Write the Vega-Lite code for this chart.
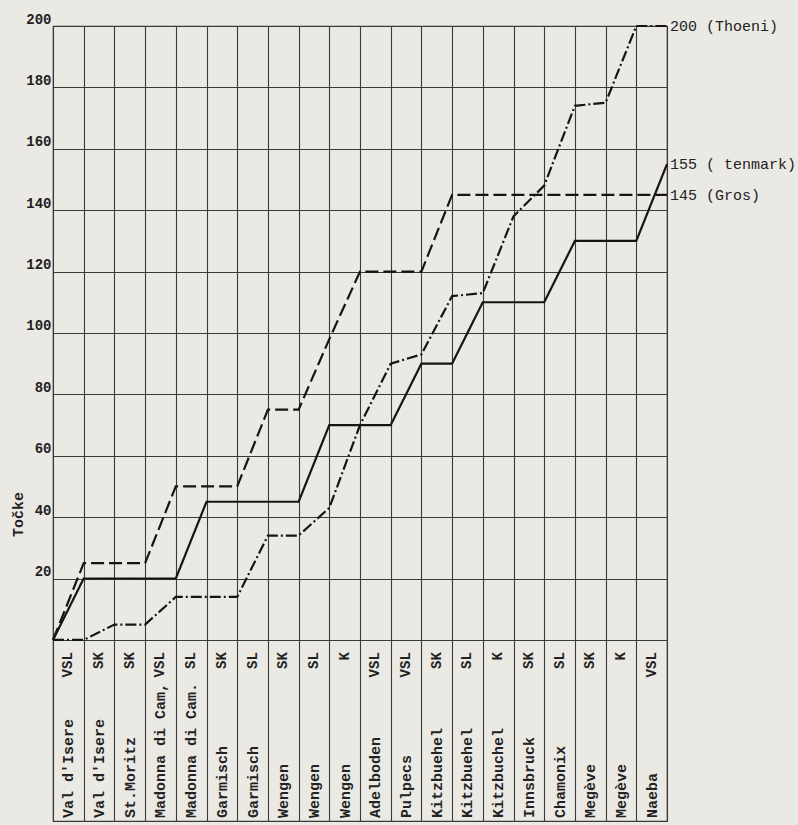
{
  "$schema": "https://vega.github.io/schema/vega-lite/v6.json",
  "width": 614,
  "height": 795,
  "autosize": {"type": "none"},
  "padding": {"left": 53, "top": 26, "right": 131, "bottom": 4},
  "background": "#ebe9e4",
  "datasets": {
    "points": [
      {"rider": "Thoeni", "idx": 0, "pts": 0}, {"rider": "Thoeni", "idx": 1, "pts": 0}, {"rider": "Thoeni", "idx": 2, "pts": 5}, {"rider": "Thoeni", "idx": 3, "pts": 5}, {"rider": "Thoeni", "idx": 4, "pts": 14}, {"rider": "Thoeni", "idx": 5, "pts": 14}, {"rider": "Thoeni", "idx": 6, "pts": 14}, {"rider": "Thoeni", "idx": 7, "pts": 34}, {"rider": "Thoeni", "idx": 8, "pts": 34}, {"rider": "Thoeni", "idx": 9, "pts": 43}, {"rider": "Thoeni", "idx": 10, "pts": 70}, {"rider": "Thoeni", "idx": 11, "pts": 90}, {"rider": "Thoeni", "idx": 12, "pts": 93}, {"rider": "Thoeni", "idx": 13, "pts": 112}, {"rider": "Thoeni", "idx": 14, "pts": 113}, {"rider": "Thoeni", "idx": 15, "pts": 138}, {"rider": "Thoeni", "idx": 16, "pts": 148}, {"rider": "Thoeni", "idx": 17, "pts": 174}, {"rider": "Thoeni", "idx": 18, "pts": 175}, {"rider": "Thoeni", "idx": 19, "pts": 200}, {"rider": "Thoeni", "idx": 20, "pts": 200},
      {"rider": "Gros", "idx": 0, "pts": 0}, {"rider": "Gros", "idx": 1, "pts": 25}, {"rider": "Gros", "idx": 2, "pts": 25}, {"rider": "Gros", "idx": 3, "pts": 25}, {"rider": "Gros", "idx": 4, "pts": 50}, {"rider": "Gros", "idx": 5, "pts": 50}, {"rider": "Gros", "idx": 6, "pts": 50}, {"rider": "Gros", "idx": 7, "pts": 75}, {"rider": "Gros", "idx": 8, "pts": 75}, {"rider": "Gros", "idx": 9, "pts": 98}, {"rider": "Gros", "idx": 10, "pts": 120}, {"rider": "Gros", "idx": 11, "pts": 120}, {"rider": "Gros", "idx": 12, "pts": 120}, {"rider": "Gros", "idx": 13, "pts": 145}, {"rider": "Gros", "idx": 14, "pts": 145}, {"rider": "Gros", "idx": 15, "pts": 145}, {"rider": "Gros", "idx": 16, "pts": 145}, {"rider": "Gros", "idx": 17, "pts": 145}, {"rider": "Gros", "idx": 18, "pts": 145}, {"rider": "Gros", "idx": 19, "pts": 145}, {"rider": "Gros", "idx": 20, "pts": 145},
      {"rider": "Stenmark", "idx": 0, "pts": 0}, {"rider": "Stenmark", "idx": 1, "pts": 20}, {"rider": "Stenmark", "idx": 2, "pts": 20}, {"rider": "Stenmark", "idx": 3, "pts": 20}, {"rider": "Stenmark", "idx": 4, "pts": 20}, {"rider": "Stenmark", "idx": 5, "pts": 45}, {"rider": "Stenmark", "idx": 6, "pts": 45}, {"rider": "Stenmark", "idx": 7, "pts": 45}, {"rider": "Stenmark", "idx": 8, "pts": 45}, {"rider": "Stenmark", "idx": 9, "pts": 70}, {"rider": "Stenmark", "idx": 10, "pts": 70}, {"rider": "Stenmark", "idx": 11, "pts": 70}, {"rider": "Stenmark", "idx": 12, "pts": 90}, {"rider": "Stenmark", "idx": 13, "pts": 90}, {"rider": "Stenmark", "idx": 14, "pts": 110}, {"rider": "Stenmark", "idx": 15, "pts": 110}, {"rider": "Stenmark", "idx": 16, "pts": 110}, {"rider": "Stenmark", "idx": 17, "pts": 130}, {"rider": "Stenmark", "idx": 18, "pts": 130}, {"rider": "Stenmark", "idx": 19, "pts": 130}, {"rider": "Stenmark", "idx": 20, "pts": 155}
    ],
    "ends": [
      {"rider": "Thoeni", "idx": 20, "pts": 200, "label": "200 (Thoeni)"},
      {"rider": "Stenmark", "idx": 20, "pts": 155, "label": "155 ( tenmark)"},
      {"rider": "Gros", "idx": 20, "pts": 145, "label": "145 (Gros)"}
    ],
    "races": [
      {"n": 1, "name": "Val d'Isere", "disc": "VSL"},
      {"n": 2, "name": "Val d'Isere", "disc": "SK"},
      {"n": 3, "name": "St.Moritz", "disc": "SK"},
      {"n": 4, "name": "Madonna di Cam,", "disc": "VSL"},
      {"n": 5, "name": "Madonna di Cam.", "disc": "SL"},
      {"n": 6, "name": "Garmisch", "disc": "SK"},
      {"n": 7, "name": "Garmisch", "disc": "SL"},
      {"n": 8, "name": "Wengen", "disc": "SK"},
      {"n": 9, "name": "Wengen", "disc": "SL"},
      {"n": 10, "name": "Wengen", "disc": "K"},
      {"n": 11, "name": "Adelboden", "disc": "VSL"},
      {"n": 12, "name": "Pulpecs", "disc": "VSL"},
      {"n": 13, "name": "Kitzbuehel", "disc": "SK"},
      {"n": 14, "name": "Kitzbuehel", "disc": "SL"},
      {"n": 15, "name": "Kitzbuchel", "disc": "K"},
      {"n": 16, "name": "Innsbruck", "disc": "SK"},
      {"n": 17, "name": "Chamonix", "disc": "SL"},
      {"n": 18, "name": "Megève", "disc": "SK"},
      {"n": 19, "name": "Megève", "disc": "K"},
      {"n": 20, "name": "Naeba", "disc": "VSL"}
    ]
  },
  "layer": [
    {
      "data": {"name": "points"},
      "mark": {"type": "line", "color": "#151515", "strokeWidth": 2.2},
      "encoding": {
        "x": {"field": "idx", "type": "quantitative",
              "scale": {"domain": [0, 20], "nice": false, "zero": false},
              "axis": {"values": [0,1,2,3,4,5,6,7,8,9,10,11,12,13,14,15,16,17,18,19,20], "labels": false, "ticks": false, "domain": false, "title": null, "grid": true}},
        "y": {"field": "pts", "type": "quantitative",
              "scale": {"domain": [-59, 200], "nice": false, "zero": false},
              "axis": {"values": [0,10,20,30,40,50,60,70,80,90,100,110,120,130,140,150,160,170,180,190,200],
                       "labelExpr": "datum.value % 20 == 0 && datum.value > 0 ? datum.label : ''",
                       "ticks": false, "domain": false, "grid": true,
                       "labelFont": "Liberation Mono", "labelFontWeight": "bold", "labelFontSize": 14, "labelColor": "#222",
                       "labelBaseline": "alphabetic", "labelOffset": -3, "labelPadding": 2,
                       "title": "Točke", "titleFont": "Liberation Mono", "titleFontWeight": "bold", "titleFontSize": 15, "titleColor": "#222",
                       "titleAngle": 270, "titleX": -36, "titleY": 488, "titleAlign": "center", "titleBaseline": "middle"}},
        "strokeDash": {"field": "rider", "type": "nominal",
                       "scale": {"domain": ["Stenmark", "Gros", "Thoeni"], "range": [[1, 0], [13, 5], [11, 3, 2, 3]]},
                       "legend": null}
      }
    },
    {
      "data": {"name": "ends"},
      "mark": {"type": "text", "align": "left", "baseline": "middle", "dx": 3, "font": "Liberation Mono", "fontSize": 15, "color": "#222"},
      "encoding": {
        "x": {"field": "idx", "type": "quantitative", "scale": {"domain": [0, 20], "nice": false, "zero": false}, "axis": null},
        "y": {"field": "pts", "type": "quantitative"},
        "text": {"field": "label"}
      }
    },
    {
      "data": {"name": "races"},
      "mark": {"type": "text", "angle": 270, "align": "left", "baseline": "middle", "font": "Liberation Mono", "fontWeight": "bold", "fontSize": 15, "color": "#222"},
      "encoding": {
        "x": {"field": "n", "type": "ordinal", "scale": {"type": "point", "padding": 0.5}, "axis": null},
        "y": {"datum": -58, "type": "quantitative"},
        "text": {"field": "name"}
      }
    },
    {
      "data": {"name": "races"},
      "mark": {"type": "text", "angle": 270, "align": "right", "baseline": "middle", "font": "Liberation Mono", "fontWeight": "bold", "fontSize": 14, "color": "#222"},
      "encoding": {
        "x": {"field": "n", "type": "ordinal", "scale": {"type": "point", "padding": 0.5}, "axis": null},
        "y": {"datum": -4, "type": "quantitative"},
        "text": {"field": "disc"}
      }
    }
  ],
  "resolve": {"scale": {"x": "independent"}},
  "config": {
    "view": {"stroke": "#3a3a3a", "strokeWidth": 1.2},
    "axis": {"gridColor": "#3a3a3a", "gridOpacity": 1, "gridWidth": 1.1}
  }
}
